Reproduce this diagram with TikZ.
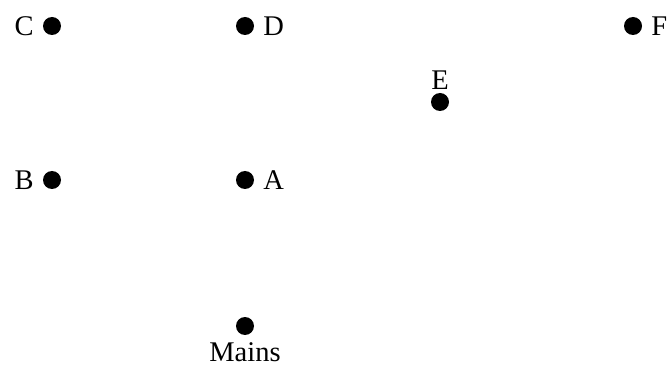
\documentclass[tikz,border=0pt]{standalone}
\usepackage{fontspec}
\setmainfont{Liberation Serif}
\begin{document}
\begin{tikzpicture}[x=1pt,y=1pt,font=\fontsize{28.5}{32}\selectfont,
  dot/.style={circle,fill=black,inner sep=0pt,minimum size=18pt},
  every label/.style={inner sep=2pt},label distance=7pt]
\useasboundingbox (0,0) rectangle (670,370);
\node[dot,label=left:C] (C) at (52,344) {};
\node[dot,label=right:D] (D) at (245,344) {};
\node[dot,label=right:F] (F) at (633,344) {};
\node[dot,label={[label distance=1pt]above:E}] (E) at (440,268) {};
\node[dot,label=left:B] (B) at (52,190) {};
\node[dot,label=right:A] (A) at (245,190) {};
\node[dot,label={[label distance=5pt]below:Mains}] (Mains) at (245,44) {};
\end{tikzpicture}
\end{document}
